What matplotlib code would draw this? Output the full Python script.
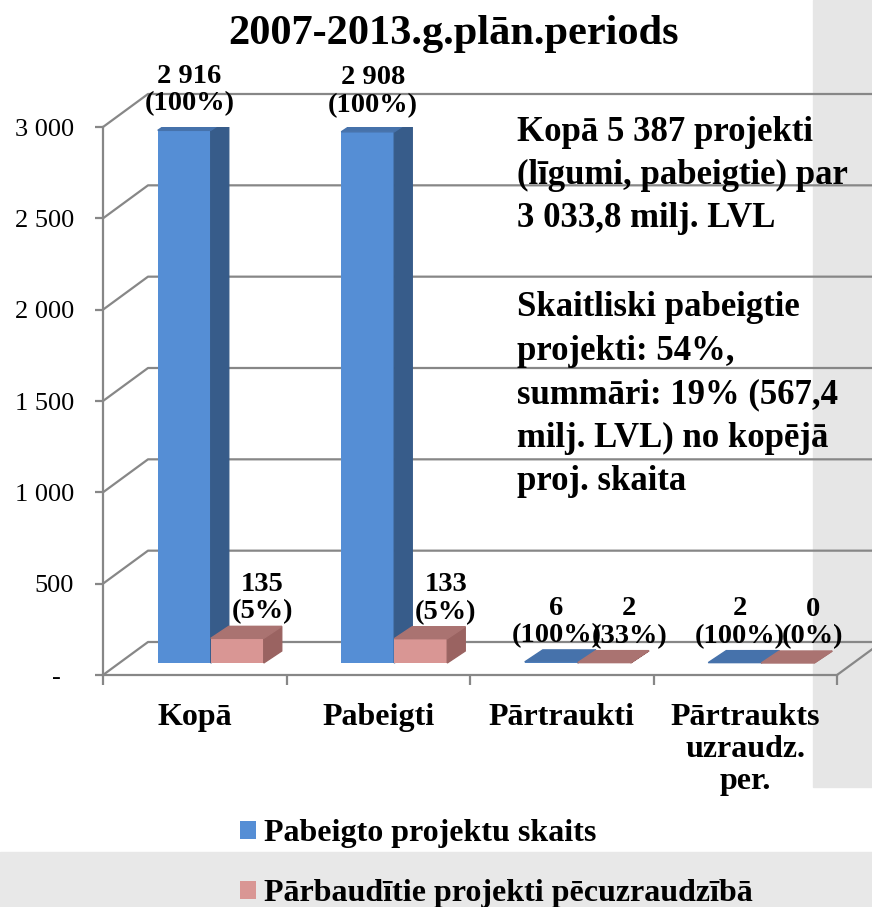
import matplotlib
matplotlib.use("Agg")
import matplotlib.pyplot as plt
from matplotlib.patches import Rectangle, Polygon

plt.rcParams['font.family'] = ['Liberation Serif', 'DejaVu Serif']

# data
categories = ['Kopā', 'Pabeigti', 'Pārtraukti', 'Pārtraukts\nuzraudz.\nper.']
completed = [2916, 2908, 6, 2]
checked = [135, 133, 2, 0]
completed_pct = ['100%', '100%', '100%', '100%']
checked_pct = ['5%', '5%', '33%', '0%']
series_names = ['Pabeigto projektu skaits', 'Pārbaudītie projekti pēcuzraudzībā']
yticks = [0, 500, 1000, 1500, 2000, 2500, 3000]
ytick_labels = ['-  ', '500', '1 000', '1 500', '2 000', '2 500', '3 000']
title = '2007-2013.g.plān.periods'
note1 = 'Kopā 5 387 projekti\n(līgumi, pabeigtie) par\n3 033,8 milj. LVL'
note2 = ('Skaitliski pabeigtie\nprojekti: 54%,\nsummāri: 19% (567,4\n'
         'milj. LVL) no kopējā\nproj. skaita')

W_PX, H_PX = 872, 907
fig = plt.figure(figsize=(W_PX / 100, H_PX / 100), dpi=100)

# grey background pieces behind the chart
fig.patches.append(Rectangle((813 / W_PX, 1 - 787 / H_PX), (W_PX - 813) / W_PX,
                             787 / H_PX, transform=fig.transFigure,
                             color='#E6E6E6', zorder=-10))
fig.patches.append(Rectangle((0, 0), 1, (H_PX - 852) / H_PX,
                             transform=fig.transFigure, color='#E8E8E8',
                             zorder=-10))

ax = fig.add_axes([103 / W_PX, (H_PX - 675) / H_PX, 734 / W_PX, 548 / H_PX])
ax.set_xlim(-0.5, 3.5)
ax.set_ylim(0, 3000)
ax.patch.set_alpha(0)

# pixel -> data helpers for the fake 3D depth
px_x = 4.0 / 734
px_y = 3000 / 548
DX, DY = 45 * px_x, 33 * px_y          # wall depth
BX0, BY0 = 16 * px_x, 12 * px_y        # bar front offset
BDX, BDY = 18 * px_x, 12 * px_y        # bar depth
BW = 53 * px_x                          # bar width

grid_col = '#878787'
for v in yticks:
    ax.plot([-0.5, -0.5 + DX, 4.2], [v, v + DY, v + DY], color=grid_col,
            lw=1.6, clip_on=False, zorder=1)
ax.plot([3.5, 3.5 + DX], [0, DY], color=grid_col, lw=1.6, clip_on=False,
        zorder=1)

for side in ['top', 'right']:
    ax.spines[side].set_visible(False)
for side in ['left', 'bottom']:
    ax.spines[side].set_color(grid_col)
    ax.spines[side].set_linewidth(1.6)

ax.set_yticks(yticks)
ax.set_yticklabels(ytick_labels, fontsize=19)
ax.tick_params(axis='y', length=6, width=1.6, color=grid_col, pad=15)

ax.set_xticks([-0.5, 0.5, 1.5, 2.5, 3.5])
ax.set_xticklabels([])
ax.tick_params(axis='x', which='major', length=7, width=1.6, color=grid_col)
ax.set_xticks(range(len(categories)), minor=True)
ax.set_xticklabels(categories, minor=True, fontsize=23, fontweight='bold',
                   linespacing=1.14)
ax.tick_params(axis='x', which='minor', length=0, pad=20)

colors = [('#558ED5', '#375C8A', '#4672AB'),
          ('#D99694', '#9A6361', '#AA7371')]
values = [completed, checked]
pcts = [completed_pct, checked_pct]
label_dx = [5 * px_x, 25 * px_x]

handles = []
for s in range(2):
    front, sidec, topc = colors[s]
    xs = [i - BW + s * BW + BX0 for i in range(len(categories))]
    bars = ax.bar(xs, values[s], width=BW, bottom=BY0, align='edge',
                  color=front, zorder=3 + s)
    handles.append(bars)
    for x0, h, p in zip(xs, values[s], pcts[s]):
        top = BY0 + h
        ax.add_patch(Polygon([(x0 + BW, BY0), (x0 + BW + BDX, BY0 + BDY),
                              (x0 + BW + BDX, top + BDY), (x0 + BW, top)],
                             closed=True, color=sidec, zorder=3 + s))
        ax.add_patch(Polygon([(x0, top), (x0 + BW, top),
                              (x0 + BW + BDX, top + BDY), (x0 + BDX, top + BDY)],
                             closed=True, color=topc, zorder=3 + s))
        lab = '{:,}'.format(h).replace(',', ' ') + '\n(' + p + ')'
        ax.annotate(lab, xy=(x0 + BW / 2 + label_dx[s], top + BDY),
                    xytext=(0, 2), textcoords='offset pixels', ha='center',
                    va='bottom', fontsize=20.5, fontweight='bold',
                    linespacing=1.12, zorder=10, annotation_clip=False)

fig.text(453 / W_PX, 1 - 34 / H_PX, title, ha='center', va='center',
         fontsize=30.5, fontweight='bold')
fig.text(517 / W_PX, 1 - 116 / H_PX, note1, ha='left', va='top',
         fontsize=25, fontweight='bold', linespacing=1.4)
fig.text(517 / W_PX, 1 - 291 / H_PX, note2, ha='left', va='top',
         fontsize=25, fontweight='bold', linespacing=1.42)

fig.legend(handles, series_names, loc='upper left',
           bbox_to_anchor=(240 / W_PX, 1 - 819 / H_PX), frameon=False,
           prop={'weight': 'bold', 'size': 23},
           handlelength=0.5, handleheight=0.5, handletextpad=0.25,
           labelspacing=0.98, borderpad=0, borderaxespad=0)

fig.savefig('out.png', dpi=100)
